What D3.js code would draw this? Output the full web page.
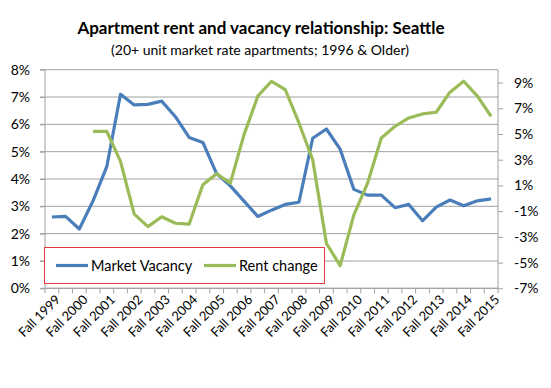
<!DOCTYPE html>
<html>
<head>
<meta charset="utf-8">
<script src="https://cdn.jsdelivr.net/npm/d3@7"></script>
<style>
  body { margin: 0; background: #fff; }
  text { font-family: Lato, "Open Sans", sans-serif; fill: #000; }
</style>
</head>
<body>
<div id="chart"></div>
<script>
// half-year periods, Fall 1999 .. Fall 2015
var periods = ["Fall 1999", "Spring 2000", "Fall 2000", "Spring 2001", "Fall 2001", "Spring 2002",
    "Fall 2002", "Spring 2003", "Fall 2003", "Spring 2004", "Fall 2004", "Spring 2005", "Fall 2005",
    "Spring 2006", "Fall 2006", "Spring 2007", "Fall 2007", "Spring 2008", "Fall 2008", "Spring 2009",
    "Fall 2009", "Spring 2010", "Fall 2010", "Spring 2011", "Fall 2011", "Spring 2012", "Fall 2012",
    "Spring 2013", "Fall 2013", "Spring 2014", "Fall 2014", "Spring 2015", "Fall 2015"];
var tickLabels = ["Fall 1999", "Fall 2000", "Fall 2001", "Fall 2002", "Fall 2003", "Fall 2004",
    "Fall 2005", "Fall 2006", "Fall 2007", "Fall 2008", "Fall 2009", "Fall 2010", "Fall 2011",
    "Fall 2012", "Fall 2013", "Fall 2014", "Fall 2015"];
var vacancy = [2.61, 2.63, 2.17, 3.2, 4.45, 7.1, 6.71, 6.73, 6.85, 6.28, 5.52, 5.34, 4.2, 3.75, 3.19,
    2.63, 2.86, 3.07, 3.15, 5.49, 5.83, 5.09, 3.62, 3.41, 3.41, 2.95, 3.07, 2.47, 2.97, 3.23, 3.02, 3.2, 3.27];
var rentChange = [null, null, null, 5.2, 5.2, 2.87, -1.23, -2.2, -1.44, -1.94, -2.01, 1.05, 1.91, 1.18,
    4.95, 7.94, 9.1, 8.46, 5.86, 3.0, -3.5, -5.24, -1.29, 1.18, 4.69, 5.6, 6.25, 6.56, 6.69, 8.25, 9.1, 7.94, 6.37];
var leftTicks = [0, 1, 2, 3, 4, 5, 6, 7, 8];
var rightTicks = [-7, -5, -3, -1, 1, 3, 5, 7, 9];

var width = 551, height = 388;
var plot = {left: 45, right: 498, top: 69.7, bottom: 288.3};
var blue = "#4a7ebb", green = "#9bbb59", grid = "#a0a0a0";

var svg = d3.select("#chart").append("svg")
    .attr("width", width)
    .attr("height", height);

var x = d3.scaleBand().domain(periods).range([plot.left, plot.right]).padding(0);
var yL = d3.scaleLinear().domain([0, 8]).range([plot.bottom, plot.top]);
var yR = d3.scaleLinear().domain([-7, 10]).range([plot.bottom, plot.top]);
var cx = function (p) { return x(p) + x.bandwidth() / 2; };

// gridlines
svg.append("g")
    .selectAll("line")
    .data(leftTicks)
    .enter()
    .append("line")
    .attr("x1", plot.left - 5)
    .attr("x2", plot.right)
    .attr("y1", function (d) { return yL(d); })
    .attr("y2", function (d) { return yL(d); })
    .attr("stroke", grid)
    .attr("stroke-width", 1);

// left axis
var leftAxis = d3.axisLeft(yL).tickValues(leftTicks).tickSize(5).tickPadding(10)
    .tickFormat(function (d) { return d + "%"; });
var gL = svg.append("g").attr("transform", "translate(" + plot.left + ",0)").call(leftAxis);

// right axis
var rightAxis = d3.axisRight(yR).tickValues(rightTicks).tickSize(5).tickPadding(11)
    .tickFormat(function (d) { return d + "%"; });
var gR = svg.append("g").attr("transform", "translate(" + plot.right + ",0)").call(rightAxis);

[gL, gR].forEach(function (g) {
    g.select(".domain").attr("stroke", grid).attr("d", "M0," + plot.top + "V" + plot.bottom);
    g.selectAll(".tick line").attr("stroke", grid);
    g.selectAll(".tick text").style("font-size", "14px").attr("fill", "#000");
});

// x axis
var gX = svg.append("g").attr("transform", "translate(0," + plot.bottom + ")");
gX.append("line")
    .attr("x1", plot.left).attr("x2", plot.right)
    .attr("stroke", grid);
gX.selectAll("line.tk")
    .data(periods.concat(["end"]))
    .enter()
    .append("line")
    .attr("class", "tk")
    .attr("x1", function (d, i) { return i < periods.length ? x(d) : plot.right; })
    .attr("x2", function (d, i) { return i < periods.length ? x(d) : plot.right; })
    .attr("y1", 0).attr("y2", 5)
    .attr("stroke", grid);
gX.selectAll("text")
    .data(tickLabels)
    .enter()
    .append("text")
    .attr("text-anchor", "end")
    .attr("transform", function (d) { return "translate(" + (cx(d) + 6) + ",9) rotate(-45)"; })
    .attr("dy", "0.35em")
    .style("font-size", "13px")
    .text(function (d) { return d; });

// lines
var vacLine = d3.line()
    .x(function (d, i) { return cx(periods[i]); })
    .y(function (d) { return yL(d); });
var rentLine = d3.line()
    .defined(function (d) { return d !== null; })
    .x(function (d, i) { return cx(periods[i]); })
    .y(function (d) { return yR(d); });

svg.append("path")
    .datum(vacancy)
    .attr("d", vacLine)
    .attr("fill", "none")
    .attr("stroke", blue)
    .attr("stroke-width", 3.2)
    .attr("stroke-linejoin", "round");
svg.append("path")
    .datum(rentChange)
    .attr("d", rentLine)
    .attr("fill", "none")
    .attr("stroke", green)
    .attr("stroke-width", 3.2)
    .attr("stroke-linejoin", "round");

// legend
var lg = svg.append("g");
lg.append("rect")
    .attr("x", 44.5).attr("y", 247.5)
    .attr("width", 280).attr("height", 36)
    .attr("fill", "#fff")
    .attr("stroke", "#e8383d");
var items = [{name: "Market Vacancy", color: blue, x: 56}, {name: "Rent change", color: green, x: 204}];
items.forEach(function (it) {
    lg.append("line")
        .attr("x1", it.x).attr("x2", it.x + 32)
        .attr("y1", 265.5).attr("y2", 265.5)
        .attr("stroke", it.color).attr("stroke-width", 3.2);
    lg.append("text")
        .attr("x", it.x + 35).attr("y", 265.5)
        .attr("dy", "0.35em")
        .style("font-size", "14.5px")
        .text(it.name);
});

// titles
svg.append("text")
    .attr("x", 261).attr("y", 28)
    .attr("text-anchor", "middle").attr("dy", "0.35em")
    .style("font-size", "17px").style("font-weight", "bold")
    .text("Apartment rent and vacancy relationship: Seattle");
svg.append("text")
    .attr("x", 260).attr("y", 50)
    .attr("text-anchor", "middle").attr("dy", "0.35em")
    .style("font-size", "14px")
    .text("(20+ unit market rate apartments; 1996 & Older)");
</script>
</body>
</html>
